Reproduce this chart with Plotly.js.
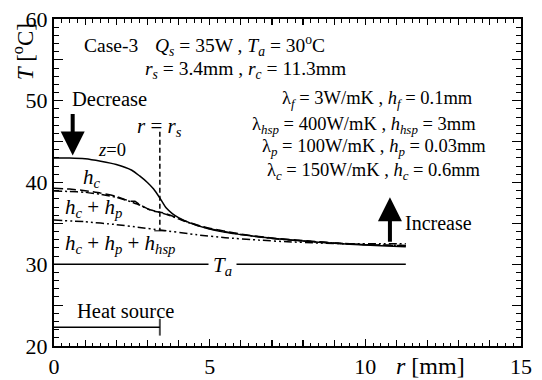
<!DOCTYPE html>
<html><head><meta charset="utf-8">
<script src="https://cdn.plot.ly/plotly-3.0.1.min.js"></script>
<style>
html,body{margin:0;padding:0;background:#fff}#c{width:542px;height:380px}
</style>
</head><body><div id="c"></div>
<script>
// Data
const rZ0 = [0, 0.5, 1, 1.5, 2, 2.5, 2.75, 3, 3.2, 3.4, 3.6, 3.8, 4.0, 4.4, 4.9, 5.5, 6.5, 7.5, 8.5, 9.5, 10.5, 11.3];
const tZ0 = [43.0, 43.0, 42.9, 42.6, 42.2, 41.5, 40.8, 40.0, 39.2, 38.1, 36.9, 36.2, 35.7, 35.0, 34.4, 33.9, 33.4, 33.0, 32.7, 32.45, 32.25, 32.15];
const rHc = [0, 0.5, 1, 1.5, 2, 2.46, 2.6, 2.75, 3.0, 3.2, 3.5, 3.8, 4.2, 4.6, 5, 6, 7, 8, 9, 10, 11.3];
const tHc = [39.3, 39.2, 39.0, 38.7, 38.3, 37.7, 37.7, 37.3, 36.8, 36.5, 36.3, 35.9, 35.3, 34.8, 34.4, 33.7, 33.2, 32.9, 32.6, 32.4, 32.25];
const rHcp = [0, 0.5, 1, 1.5, 2, 2.46, 2.75, 3.0, 3.4, 3.8, 4.2, 4.6, 5, 6, 7, 8, 9, 10, 11.3];
const tHcp = [38.95, 38.9, 38.8, 38.55, 38.2, 37.65, 37.25, 36.75, 36.35, 35.85, 35.25, 34.75, 34.35, 33.65, 33.15, 32.85, 32.6, 32.4, 32.3];
const rHsp = [0, 1, 2, 2.75, 3.4, 4.6, 5.5, 6.6, 7.5, 8.5, 9.5, 10.5, 11.3];
const tHsp = [35.4, 35.2, 34.85, 34.5, 34.2, 33.6, 33.25, 32.95, 32.75, 32.6, 32.5, 32.5, 32.5];
const rTa = [0, 11.3];
const tTa = [30, 30];
const rHeat = [0, 3.4];
const tHeat = [22.3, 22.3];
const rRs = [3.4, 3.4];
const tRs = [46.2, 34.1];
const xRange = [0, 15];
const yRange = [20, 60];

const F = 'Liberation Serif';
const lw = 1.5;
const ghost = {mode:'lines', line:{width:0, color:'rgba(0,0,0,0)'}, hoverinfo:'skip', showlegend:false};
const traces = [
  {x: rZ0, y: tZ0, mode:'lines', line:{color:'#000', width:lw, shape:'spline', smoothing:0.6}},
  {x: rHc, y: tHc, mode:'lines', line:{color:'#000', width:lw, dash:'9px,4px', shape:'spline', smoothing:0.5}},
  {x: rHcp, y: tHcp, mode:'lines', line:{color:'#000', width:lw, dash:'8px,3px,2px,3px', shape:'spline', smoothing:0.5}},
  {x: rHsp, y: tHsp, mode:'lines', line:{color:'#000', width:lw, dash:'8px,3px,2px,3px,2px,3px', shape:'spline', smoothing:0.5}},
  {x: rTa, y: tTa, mode:'lines', line:{color:'#000', width:lw}},
  {x: rHeat, y: tHeat, mode:'lines+markers', line:{color:'#000', width:lw},
   marker:{symbol:'line-ns-open', size:[0,12], color:'#000', line:{color:'#000', width:2}}},
  {x: rRs, y: tRs, mode:'lines+markers', line:{color:'#000', width:lw, dash:'5px,3px'},
   marker:{symbol:'line-ew-open', size:[0,8], color:'#000', line:{color:'#000', width:1.5}}},
  Object.assign({x: rTa, y: tTa, xaxis:'x2', yaxis:'y2'}, ghost),
  Object.assign({x: rTa, y: tTa, xaxis:'x3', yaxis:'y3'}, ghost)
];

function fnt(s) { return {family:F, size:s, color:'#000'}; }
function t(x, y, text, opts) {
  return Object.assign({x:x, y:y, xref:'x', yref:'y', text:text, showarrow:false,
    font:fnt(19.5), xanchor:'left', yanchor:'middle'}, opts || {});
}
const big = fnt(21);
const lam = {font:fnt(18.5)};
const ann = [
  t(0.9, 56.8, 'Case-3'),
  t(3.18, 56.8, '<i>Q<sub>s</sub></i> = 35W , <i>T<sub>a</sub></i> = 30<sup>o</sup>C'),
  t(2.86, 53.76, '<i>r<sub>s</sub></i> = 3.4mm , <i>r<sub>c</sub></i> = 11.3mm'),
  t(7.26, 50.1, 'λ<sub><i>f</i></sub> = 3W/mK , <i>h<sub>f</sub></i> = 0.1mm', lam),
  t(6.3, 47.03, 'λ<sub><i>hsp</i></sub> = 400W/mK , <i>h<sub>hsp</sub></i> = 3mm', lam),
  t(6.62, 44.34, 'λ<sub><i>p</i></sub> = 100W/mK , <i>h<sub>p</sub></i> = 0.03mm', lam),
  t(6.78, 41.4, 'λ<sub><i>c</i></sub> = 150W/mK , <i>h<sub>c</sub></i> = 0.6mm', lam),
  t(0.51, 50.2, 'Decrease', {font:fnt(20.5)}),
  t(1.86, 44.0, '<i>z</i>=0', {xanchor:'center', font:fnt(18.5)}),
  t(1.22, 40.55, '<i>h<sub>c</sub></i>', {xanchor:'center', font:big}),
  t(0.29, 36.9, '<i>h<sub>c</sub></i> + <i>h<sub>p</sub></i>', {font:big}),
  t(0.29, 32.5, '<i>h<sub>c</sub></i> + <i>h<sub>p</sub></i> + <i>h<sub>hsp</sub></i>', {font:big}),
  t(5.4, 29.8, '<i>T<sub>a</sub></i>', {xanchor:'center', bgcolor:'#fff', borderpad:4, font:big}),
  t(3.4, 46.8, '<i>r</i> = <i>r<sub>s</sub></i>', {xanchor:'center', font:big}),
  t(0.67, 24.3, 'Heat source', {font:fnt(20.5)}),
  t(11.21, 35.05, 'Increase', {font:fnt(20)}),
  {x:0.6, y:43.3, xref:'x', yref:'y', text:'', showarrow:true, ax:0, ay:-43, arrowhead:2, arrowsize:1.2, arrowwidth:4, arrowcolor:'#000', standoff:0},
  {x:10.79, y:38.2, xref:'x', yref:'y', text:'', showarrow:true, ax:0, ay:46, arrowhead:2, arrowsize:1.2, arrowwidth:4, arrowcolor:'#000', standoff:0},
  {x:12.1, y:20, xref:'x', yref:'y', xanchor:'center', yanchor:'top', yshift:-5, text:'<i>r</i> [mm]', showarrow:false, font:fnt(24)},
  {x:-0.065, y:0.9, xref:'paper', yref:'paper', xanchor:'center', yanchor:'middle', text:'<i>T</i> [<sup>o</sup>C]', textangle:-90, showarrow:false, font:fnt(23)}
];

const tickfont = fnt(22);
const base = {showgrid:false, zeroline:false, ticks:'inside', tickcolor:'#000', fixedrange:true};
const layout = {
  width:542, height:380, paper_bgcolor:'#fff', plot_bgcolor:'#fff', showlegend:false,
  font:{family:F, color:'#000'},
  margin:{l:54, r:21, t:19, b:34},
  xaxis: Object.assign({}, base, {range:xRange, showline:true, mirror:true, linecolor:'#000', linewidth:2,
    tickmode:'linear', tick0:0, dtick:5, ticklen:7, tickwidth:1.2, tickfont:tickfont,
    minor:{tickmode:'linear', tick0:0, dtick:0.25, ticklen:3.5, tickcolor:'#000', ticks:'inside', tickwidth:1}}),
  yaxis: Object.assign({}, base, {range:yRange, showline:true, mirror:true, linecolor:'#000', linewidth:2,
    tickmode:'linear', tick0:20, dtick:10, ticklen:9, tickwidth:1.2, tickfont:tickfont,
    minor:{tickmode:'linear', tick0:20, dtick:1, ticklen:5, tickcolor:'#000', ticks:'inside', tickwidth:1}}),
  xaxis2: Object.assign({}, base, {range:xRange, overlaying:'x', side:'bottom', anchor:'y', showline:false, showticklabels:false,
    tickmode:'linear', tick0:0, dtick:1, ticklen:6, tickwidth:1.2}),
  yaxis2: Object.assign({}, base, {range:yRange, overlaying:'y', side:'left', anchor:'x', showline:false, showticklabels:false,
    tickmode:'linear', tick0:20, dtick:5, ticklen:9, tickwidth:1.2}),
  xaxis3: Object.assign({}, base, {range:xRange, overlaying:'x', side:'top', anchor:'y', showline:false, showticklabels:false,
    tickmode:'linear', tick0:0, dtick:1, ticklen:6, tickwidth:1.2,
    minor:{tickmode:'linear', tick0:0, dtick:0.25, ticklen:3.5, tickcolor:'#000', ticks:'inside', tickwidth:1}}),
  yaxis3: Object.assign({}, base, {range:yRange, overlaying:'y', side:'right', anchor:'x', showline:false, showticklabels:false,
    tickmode:'linear', tick0:20, dtick:5, ticklen:9, tickwidth:1.2,
    minor:{tickmode:'linear', tick0:20, dtick:1, ticklen:5, tickcolor:'#000', ticks:'inside', tickwidth:1}}),
  annotations: ann
};
Plotly.newPlot('c', traces, layout, {staticPlot:true, displayModeBar:false});
</script></body></html>
